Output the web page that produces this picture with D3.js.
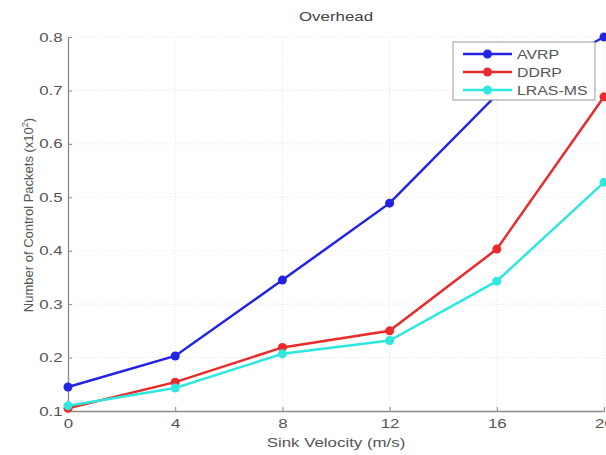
<!DOCTYPE html>
<html>
<head>
<meta charset="utf-8">
<script src="https://cdn.jsdelivr.net/npm/d3@7"></script>
<style>
  body { margin: 0; background: #fff; }
  svg { font-family: "Liberation Sans", Arial, sans-serif; }
  .tick text { fill: #555; font-size: 12.5px; }
</style>
</head>
<body>
<svg id="chart" width="606" height="455"></svg>
<script>
// data
const velocity = [0, 4, 8, 12, 16, 20];
const avrp = [0.145, 0.203, 0.345, 0.489, 0.692, 0.80];
const ddrp = [0.105, 0.154, 0.219, 0.250, 0.403, 0.688];
const lras = [0.110, 0.143, 0.207, 0.232, 0.343, 0.528];
const seriesNames = ["AVRP", "DDRP", "LRAS-MS"];
const xTicks = [0, 4, 8, 12, 16, 20];
const yTicks = [0.1, 0.2, 0.3, 0.4, 0.5, 0.6, 0.7, 0.8];

const colors = ["#2323e6", "#ea2b2b", "#2ee8e0"];
const allSeries = [avrp, ddrp, lras];
const stretch = 1.35; // the picture's text is wide

var margin = {left: 68, right: 2, top: 37, bottom: 44};
var width = 606 - margin.left - margin.right;
var height = 455 - margin.top - margin.bottom;

var svg = d3.select("#chart");
var g = svg.append("g")
    .attr("transform", "translate(" + margin.left + "," + margin.top + ")");

var x = d3.scaleLinear().domain([0, 20]).range([0, width]);
var y = d3.scaleLinear().domain([0.1, 0.8]).range([height, 0]);

// grid
g.append("g").selectAll("line").data(xTicks.slice(1)).join("line")
    .attr("x1", d => x(d)).attr("x2", d => x(d))
    .attr("y1", 0).attr("y2", height)
    .style("stroke", "#e4e4e4").style("stroke-dasharray", "1,2");
g.append("g").selectAll("line").data(yTicks.slice(1)).join("line")
    .attr("x1", 0).attr("x2", width)
    .attr("y1", d => y(d)).attr("y2", d => y(d))
    .style("stroke", "#e4e4e4").style("stroke-dasharray", "1,2");

// axes
var xAxis = g.append("g")
    .attr("transform", "translate(0," + height + ")")
    .call(d3.axisBottom(x).tickValues(xTicks).tickFormat(d3.format("d")).tickSizeInner(-4).tickSizeOuter(0).tickPadding(8));
var yAxis = g.append("g")
    .call(d3.axisLeft(y).tickValues(yTicks).tickFormat(d3.format(".1f")).tickSizeInner(-4).tickSizeOuter(0).tickPadding(4));
[xAxis, yAxis].forEach(a => {
    a.select(".domain").style("stroke", "#8a8a8a").style("stroke-width", 1.3);
    a.selectAll(".tick line").style("stroke", "#8a8a8a");
    a.selectAll(".tick text").attr("transform", "scale(" + stretch + ",1)");
});

// lines
const line = d3.line()
    .x((d, i) => x(velocity[i]))
    .y(d => y(d));

allSeries.forEach((s, k) => {
    g.append("path")
        .datum(s)
        .attr("d", line)
        .style("fill", "none")
        .style("stroke", colors[k])
        .style("stroke-width", "2.5px");
    g.append("g").selectAll("circle").data(s).join("circle")
        .attr("cx", (d, i) => x(velocity[i]))
        .attr("cy", d => y(d))
        .attr("r", 4.5)
        .style("fill", colors[k]);
});

// title and labels
const wideText = (px, py, txt, size, color) =>
    svg.append("text")
        .attr("transform", "translate(" + px + "," + py + ") scale(" + stretch + ",1)")
        .attr("text-anchor", "middle")
        .style("font-size", size).style("fill", color)
        .text(txt);

wideText(margin.left + width / 2, 21, "Overhead", "12.5px", "#444");
wideText(margin.left + width / 2, 447, "Sink Velocity (m/s)", "12.5px", "#555");

var yl = svg.append("text")
    .attr("transform", "translate(33,215) rotate(-90)")
    .attr("text-anchor", "middle")
    .style("font-size", "13px").style("fill", "#555");
yl.append("tspan").text("Number of Control Packets (x10");
yl.append("tspan").attr("dy", -5).style("font-size", "9px").text("2");
yl.append("tspan").attr("dy", 5).text(")");

// legend
var lg = svg.append("g").attr("transform", "translate(453,42)");
lg.append("rect")
    .attr("width", 142).attr("height", 58)
    .style("fill", "#fff").style("stroke", "#999");
seriesNames.forEach((name, k) => {
    var row = lg.append("g").attr("transform", "translate(0," + (12 + k * 18) + ")");
    row.append("line").attr("x1", 10).attr("x2", 59)
        .style("stroke", colors[k]).style("stroke-width", 2.5);
    row.append("circle").attr("cx", 34.5).attr("r", 4.5).style("fill", colors[k]);
    row.append("text").attr("transform", "translate(64,0) scale(1.22,1)").attr("dy", "0.36em")
        .style("font-size", "13px").style("fill", "#555").text(name);
});
</script>
</body>
</html>
